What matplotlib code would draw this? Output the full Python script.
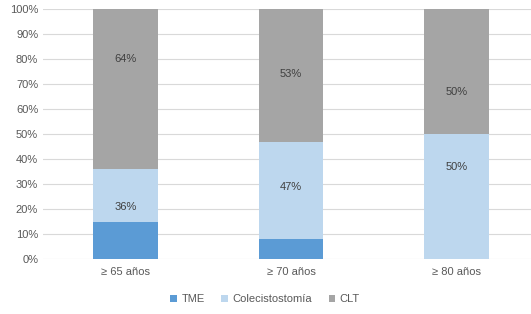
import matplotlib.pyplot as plt
import numpy as np

# ---- Data ----
categories = ["≥ 65 años", "≥ 70 años", "≥ 80 años"]
tme = [15, 8, 0]
colecistostomia = [21, 39, 50]
clt = [64, 53, 50]
# labels shown on the chart
colec_labels = ["36%", "47%", "50%"]
clt_labels = ["64%", "53%", "50%"]

c_tme = "#5B9BD5"
c_colec = "#BDD7EE"
c_clt = "#A5A5A5"
txt = "#595959"

plt.rcParams['font.family'] = ['Liberation Sans', 'DejaVu Sans']

fig = plt.figure(figsize=(5.31, 3.14), dpi=100)
ax = fig.add_axes([0.081, 0.175, 0.919, 0.796])

x = np.arange(len(categories))
w = 0.39
tme_a = np.array(tme)
col_a = np.array(colecistostomia)
clt_a = np.array(clt)

ax.bar(x, tme_a, w, color=c_tme, label="TME", zorder=3)
ax.bar(x, col_a, w, bottom=tme_a, color=c_colec, label="Colecistostomía", zorder=3)
ax.bar(x, clt_a, w, bottom=tme_a + col_a, color=c_clt, label="CLT", zorder=3)

# labels were hand-placed in the original, not at segment centres
colec_label_y = [21, 29, 37]
clt_label_y = [80, 74, 67]
for i in range(len(categories)):
    ax.text(x[i], colec_label_y[i], colec_labels[i], ha='center', va='center',
            fontsize=8, color="#404040", zorder=4)
    ax.text(x[i], clt_label_y[i], clt_labels[i], ha='center', va='center',
            fontsize=8, color="#404040", zorder=4)

ax.set_ylim(0, 100)
ax.set_xlim(-0.5, 2.45)
ax.set_yticks(np.arange(0, 101, 10))
ax.set_yticklabels([f"{v}%" for v in range(0, 101, 10)])
ax.set_xticks(x)
ax.set_xticklabels(categories)
ax.tick_params(axis='both', length=0, labelsize=8, colors=txt)
ax.tick_params(axis='x', pad=6)
ax.grid(axis='y', color="#D9D9D9", linewidth=0.8, zorder=0)
for s in ax.spines.values():
    s.set_visible(False)

ax.legend(loc='upper center', bbox_to_anchor=(0.455, -0.1), ncol=3, frameon=False,
          fontsize=8, handlelength=0.6, handleheight=0.6, handletextpad=0.4,
          columnspacing=1.5, labelcolor=txt)

fig.savefig("out.png", dpi=100)
